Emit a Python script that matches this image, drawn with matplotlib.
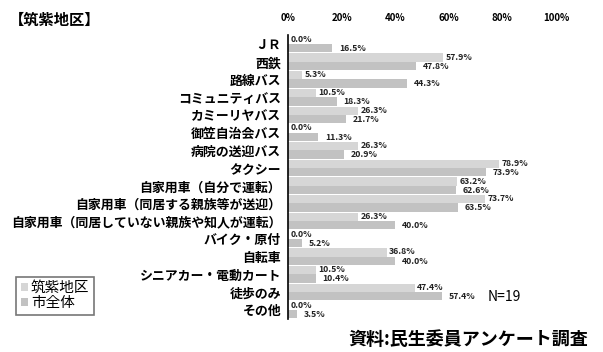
import numpy as np
import matplotlib
matplotlib.use("Agg")
from matplotlib import pyplot as plt
from matplotlib.patches import Patch

plt.rcParams['font.family'] = ['Noto Sans CJK JP', 'DejaVu Sans']

# data
categories = [
    "ＪＲ", "西鉄", "路線バス", "コミュニティバス", "カミーリヤバス",
    "御笠自治会バス", "病院の送迎バス", "タクシー",
    "自家用車（自分で運転）", "自家用車（同居する親族等が送迎）",
    "自家用車（同居していない親族や知人が運転）", "バイク・原付",
    "自転車", "シニアカー・電動カート", "徒歩のみ", "その他",
]
chikushi = [0.0, 57.9, 5.3, 10.5, 26.3, 0.0, 26.3, 78.9,
            63.2, 73.7, 26.3, 0.0, 36.8, 10.5, 47.4, 0.0]
city = [16.5, 47.8, 44.3, 18.3, 21.7, 11.3, 20.9, 73.9,
        62.6, 63.5, 40.0, 5.2, 40.0, 10.4, 57.4, 3.5]
xticks = [0, 20, 40, 60, 80, 100]
series_names = ["筑紫地区", "市全体"]

fig = plt.figure(figsize=(6.03, 3.52), dpi=100)
ax = fig.add_axes([0.4776, 0.095, 0.4444, 0.805])

y = np.arange(len(categories))
h = 0.47
c1 = "#d6d6d6"
c2 = "#c2c2c2"
ax.barh(y - h / 2, chikushi, height=h, color=c1)
ax.barh(y + h / 2, city, height=h, color=c2)

for yi, v1, v2 in zip(y, chikushi, city):
    ax.text(v1 + 0.8, yi - h / 2 - 0.03, f"{v1:.1f}%", fontsize=6.3,
            fontweight="bold", va="center", ha="left", color="#222222")
    ax.text(v2 + 2.5, yi + h / 2 + 0.02, f"{v2:.1f}%", fontsize=6.3,
            fontweight="bold", va="center", ha="left", color="#222222")

ax.set_xlim(0, 100)
ax.set_ylim(len(categories) - 0.5, -0.5)
ax.set_xticks(xticks)
ax.set_xticklabels([f"{t}%" for t in xticks], fontsize=7, fontweight="bold")
ax.xaxis.tick_top()
ax.tick_params(axis="x", length=0, pad=9)
ax.set_yticks(y)
ax.set_yticklabels(categories, fontsize=9.3, fontweight="bold")
ax.tick_params(axis="y", length=0, pad=5)
for s in ["top", "right", "bottom"]:
    ax.spines[s].set_visible(False)
ax.spines["left"].set_linewidth(1.2)

fig.text(0.015, 0.945, "【筑紫地区】", fontsize=11, fontweight="bold",
         ha="left", va="center")
fig.text(0.837, 0.155, "N=19", fontsize=10, ha="center", va="center")
fig.text(0.975, 0.035, "資料:民生委員アンケート調査", fontsize=13,
         fontweight="bold", ha="right", va="center")

handles = [Patch(facecolor=c1), Patch(facecolor=c2)]
leg = fig.legend(handles, series_names, loc="lower left",
                 bbox_to_anchor=(0.015, 0.085), fontsize=10.5,
                 handlelength=0.5, handleheight=0.5, handletextpad=0.2,
                 borderpad=0.3, labelspacing=0.1, fancybox=False,
                 frameon=True, edgecolor="#555555")
leg.get_frame().set_linewidth(1.2)

fig.savefig("out.png", dpi=100)
